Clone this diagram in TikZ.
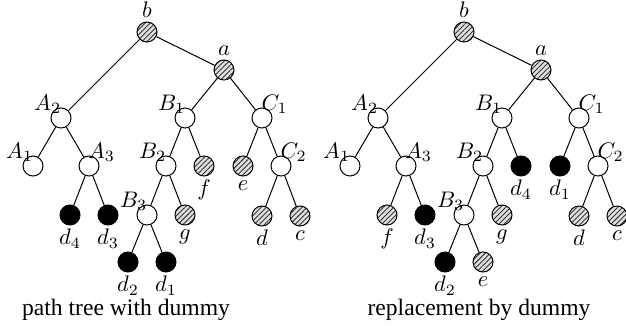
\documentclass[tikz,border=0pt]{standalone}
\usepackage{fontspec}
\setmainfont{Liberation Serif}
\usepackage{tikz}
\usetikzlibrary{patterns.meta}

\begin{document}
\begin{tikzpicture}[x=1pt,y=-1pt,line width=1pt,
    vertex/.style={circle,draw,minimum size=20pt,inner sep=0pt},
    plain/.style={vertex,fill=white},
    hatched/.style={vertex,preaction={fill=gray!25},pattern={Lines[angle=45,distance=3.6pt,line width=0.9pt]},pattern color=black!80},
    dummy/.style={vertex,fill=black},
    every label/.style={scale=2.25,inner sep=0pt},
    % shifts below are in label units (scaled by 2.25)
    ul/.style={label={[xshift=-5.9pt,yshift=6.2pt]center:$#1$}},
    ur/.style={label={[xshift=5.6pt,yshift=6.2pt]center:$#1$}},
    up/.style={label={[label distance=1.1pt]above:$#1$}},
    dn/.style={label={[label distance=1.2pt]below:$#1$}},
    caption/.style={font=\rmfamily\fontsize{23.6}{26}\selectfont}]
    \useasboundingbox (0,0) rectangle (626,326);

    % path tree with dummy
    \node[hatched,up=b] (lb) at (147,32) {};
    \node[hatched,up=a] (la) at (224,70) {};
    \node[plain,ul=A_2] (lA2) at (61,118) {};
    \node[plain,ul=B_1] (lB1) at (185,118) {};
    \node[plain,ur=C_1] (lC1) at (262,118) {};
    \node[plain,ul=A_1] (lA1) at (33,166) {};
    \node[plain,ur=A_3] (lA3) at (89,166) {};
    \node[plain,ul=B_2] (lB2) at (166,166) {};
    \node[hatched,dn=f] (lf) at (204,166) {};
    \node[hatched,dn=e] (le) at (243,166) {};
    \node[plain,ur=C_2] (lC2) at (281,166) {};
    \node[dummy,dn=d_4] (ld4) at (70,215) {};
    \node[dummy,dn=d_3] (ld3) at (108,215) {};
    \node[plain,ul=B_3] (lB3) at (147,215) {};
    \node[hatched,dn=g] (lg) at (185,215) {};
    \node[hatched,dn=d] (ld) at (262,216) {};
    \node[hatched,dn=c] (lc) at (300,216) {};
    \node[dummy,dn=d_2] (ld2) at (128,262) {};
    \node[dummy,dn=d_1] (ld1) at (166,262) {};
    \draw (lb) -- (lA2);
    \draw (lb) -- (la);
    \draw (la) -- (lB1);
    \draw (la) -- (lC1);
    \draw (lA2) -- (lA1);
    \draw (lA2) -- (lA3);
    \draw (lA3) -- (ld4);
    \draw (lA3) -- (ld3);
    \draw (lB1) -- (lB2);
    \draw (lB1) -- (lf);
    \draw (lB2) -- (lB3);
    \draw (lB2) -- (lg);
    \draw (lB3) -- (ld2);
    \draw (lB3) -- (ld1);
    \draw (lC1) -- (le);
    \draw (lC1) -- (lC2);
    \draw (lC2) -- (ld);
    \draw (lC2) -- (lc);
    \node[caption] (lcap) at (126,310) {path tree with dummy};

    % replacement by dummy
    \begin{scope}[xshift=317pt]
    \node[hatched,up=b] (rb) at (147,32) {};
    \node[hatched,up=a] (ra) at (224,70) {};
    \node[plain,ul=A_2] (rA2) at (61,118) {};
    \node[plain,ul=B_1] (rB1) at (185,118) {};
    \node[plain,ur=C_1] (rC1) at (262,118) {};
    \node[plain,ul=A_1] (rA1) at (33,166) {};
    \node[plain,ur=A_3] (rA3) at (89,166) {};
    \node[plain,ul=B_2] (rB2) at (166,166) {};
    \node[dummy,dn=d_4] (rd4) at (204,166) {};
    \node[dummy,dn=d_1] (rd1) at (243,166) {};
    \node[plain,ur=C_2] (rC2) at (281,166) {};
    \node[hatched,dn=f] (rf) at (70,215) {};
    \node[dummy,dn=d_3] (rd3) at (108,215) {};
    \node[plain,ul=B_3] (rB3) at (147,215) {};
    \node[hatched,dn=g] (rg) at (185,215) {};
    \node[hatched,dn=d] (rd) at (262,216) {};
    \node[hatched,dn=c] (rc) at (300,216) {};
    \node[dummy,dn=d_2] (rd2) at (128,262) {};
    \node[hatched,dn=e] (re) at (166,262) {};
    \draw (rb) -- (rA2);
    \draw (rb) -- (ra);
    \draw (ra) -- (rB1);
    \draw (ra) -- (rC1);
    \draw (rA2) -- (rA1);
    \draw (rA2) -- (rA3);
    \draw (rA3) -- (rf);
    \draw (rA3) -- (rd3);
    \draw (rB1) -- (rB2);
    \draw (rB1) -- (rd4);
    \draw (rB2) -- (rB3);
    \draw (rB2) -- (rg);
    \draw (rB3) -- (rd2);
    \draw (rB3) -- (re);
    \draw (rC1) -- (rd1);
    \draw (rC1) -- (rC2);
    \draw (rC2) -- (rd);
    \draw (rC2) -- (rc);
    \node[caption] (rcap) at (162,310) {replacement by dummy};
    \end{scope}
\end{tikzpicture}
\end{document}
